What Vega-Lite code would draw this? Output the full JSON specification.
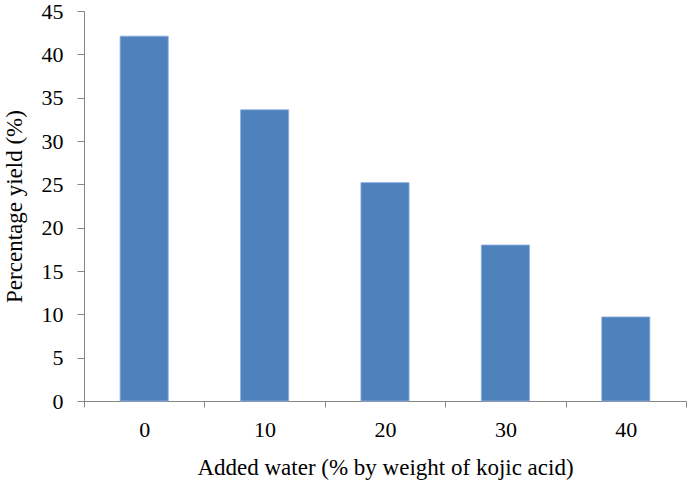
{
  "$schema": "https://vega.github.io/schema/vega-lite/v6.json",
  "width": 602,
  "height": 390,
  "autosize": "none",
  "padding": {"left": 84, "top": 11, "right": 4, "bottom": 87},
  "background": "white",
  "config": {
    "view": {"stroke": null},
    "font": "Liberation Serif",
    "axis": {"labelFont": "Liberation Serif", "titleFont": "Liberation Serif"}
  },
  "data": {
    "values": [
      {"water": "0", "yield": 42.1},
      {"water": "10", "yield": 33.6},
      {"water": "20", "yield": 25.2},
      {"water": "30", "yield": 18.0},
      {"water": "40", "yield": 9.7}
    ]
  },
  "mark": {"type": "bar", "width": {"band": 0.4}, "color": "#4F81BD", "stroke": "#8DB3E2", "strokeWidth": 0.8},
  "encoding": {
    "x": {
      "field": "water",
      "type": "ordinal",
      "sort": null,
      "scale": {"paddingInner": 0, "paddingOuter": 0},
      "axis": {
        "title": "Added water (% by weight of kojic acid)",
        "labelAngle": 0,
        "tickBand": "extent",
        "domainColor": "#868686",
        "tickColor": "#868686",
        "tickSize": 6,
        "labelFontSize": 22,
        "labelColor": "#000000",
        "labelPadding": 12,
        "titleFontSize": 23,
        "titleFontWeight": "normal",
        "titleColor": "#000000",
        "titlePadding": 16
      }
    },
    "y": {
      "field": "yield",
      "type": "quantitative",
      "scale": {"domain": [0, 45], "nice": false},
      "axis": {
        "title": "Percentage yield (%)",
        "values": [0, 5, 10, 15, 20, 25, 30, 35, 40, 45],
        "grid": false,
        "domainColor": "#868686",
        "tickColor": "#868686",
        "tickSize": 7,
        "labelFontSize": 22,
        "labelColor": "#000000",
        "labelPadding": 14,
        "titleFontSize": 23,
        "titleFontWeight": "normal",
        "titleColor": "#000000",
        "titlePadding": 15
      }
    }
  }
}
